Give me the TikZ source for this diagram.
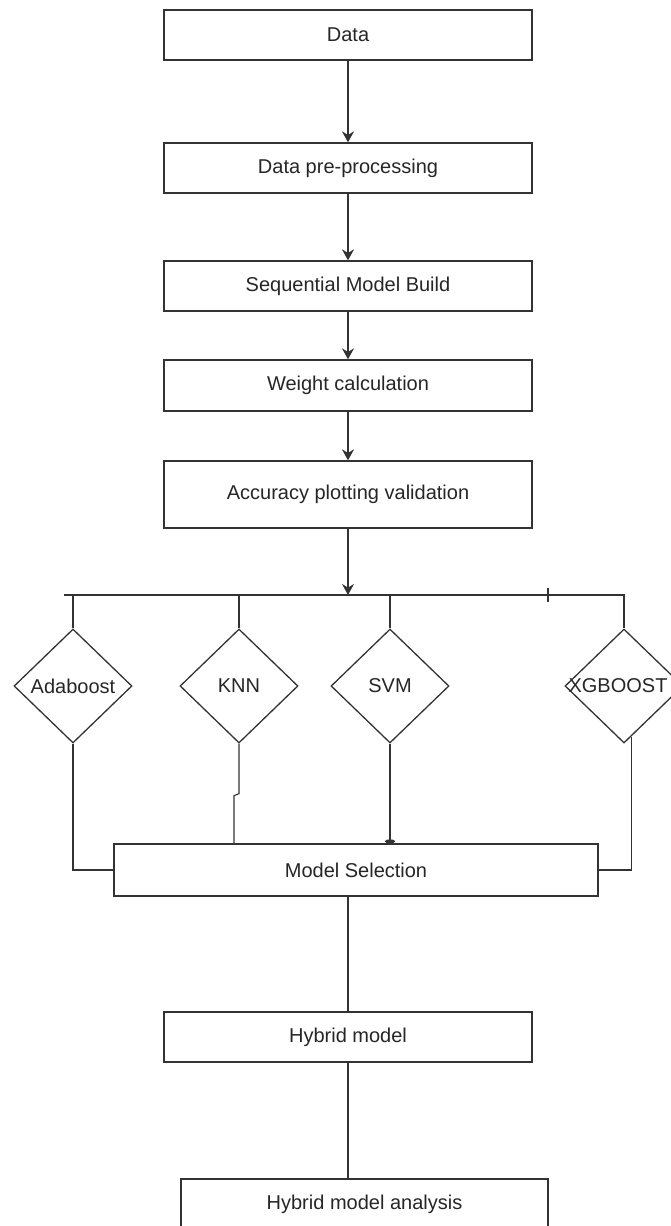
\documentclass[tikz,border=0pt]{standalone}
\usepackage{fontspec}
\setmainfont{Liberation Sans}
\usetikzlibrary{arrows.meta}
\usetikzlibrary{shapes.geometric}

\tikzset{
  stepbox/.style={draw=black!80, line width=1.3pt, fill=white, minimum width=368pt,
    minimum height=50pt, inner sep=0pt, font=\fontsize{20}{24}\selectfont, text=black!85},
  choice/.style={draw=black!80, line width=1.3pt, diamond, minimum width=118pt,
    minimum height=114pt, inner sep=0pt},
  choicetext/.style={font=\fontsize{20}{24}\selectfont, text=black!85},
  flow/.style={draw=black!80, line width=1.3pt, -{Stealth[length=11pt,width=12pt]}},
  link/.style={draw=black!80, line width=1.1pt},
}

\begin{document}
\begin{tikzpicture}[x=1pt, y=-1pt]

  \useasboundingbox (0,0) rectangle (670,1226);

  % ---------- Main steps ----------
  \node[stepbox] at (348, 35) (data) {Data};
  \node[stepbox] at (348, 168) (prep) {Data pre-processing};
  \node[stepbox] at (348, 286) (seq) {Sequential Model Build};
  \node[stepbox, minimum height=51pt] at (348, 385.5) (weight) {Weight calculation};
  \node[stepbox, minimum height=67pt] at (348, 494.5) (acc) {Accuracy plotting validation};

  % Arrows
  \draw[flow] (data) -- (prep);
  \draw[flow] (prep) -- (seq);
  \draw[flow] (seq) -- (weight);
  \draw[flow] (weight) -- (acc);

  % ---------- Classifiers ----------
  \coordinate (busL) at (64, 595);
  \coordinate (busin) at (348, 595);
  \draw[flow] (acc) -- (busin);

  \node[choice, label={[choicetext]center:Adaboost}] at (73, 686) (ada) {};
  \node[choice, label={[choicetext]center:KNN}] at (239, 686) (knn) {};
  \node[choice, label={[choicetext]center:SVM}] at (390, 686) (svm) {};
  \node[choice, label={[choicetext, xshift=-6pt]center:XGBOOST}] at (624, 686) (xgb) {};

  % Bus
  \draw[link] (busL) -| (xgb.north);
  \draw[link] (ada.north |- busL) -- (ada.north);
  \draw[link] (knn.north |- busL) -- (knn.north);
  \draw[link] (svm.north |- busL) -- (svm.north);
  \draw[link] (548, 588) -- (548, 602);

  % ---------- Selection ----------
  \node[stepbox, minimum width=484pt, minimum height=52pt] at (356, 870) (sel) {Model Selection};

  \draw[link] (ada.south) |- (sel.west);
  \draw[link] (knn.south) -- ++(0, 50) -- ++(-5, 2) -- ++(0, 49);
  \draw[link, -{Ellipse[length=4pt, width=10pt]}] (svm.south) -- (svm.south |- sel.north);
  \draw[link] (xgb.-82) |- (sel.east);

  % ---------- Hybrid ----------
  \node[stepbox] at (348, 1037) (hyb) {Hybrid model};
  \node[stepbox, minimum width=367pt] at (364.5, 1204) (ana) {Hybrid model analysis};

  \draw[link] (hyb.north |- sel.south) -- (hyb.north);
  \draw[link] (hyb.south) -- (hyb.south |- ana.north);

\end{tikzpicture}
\end{document}
